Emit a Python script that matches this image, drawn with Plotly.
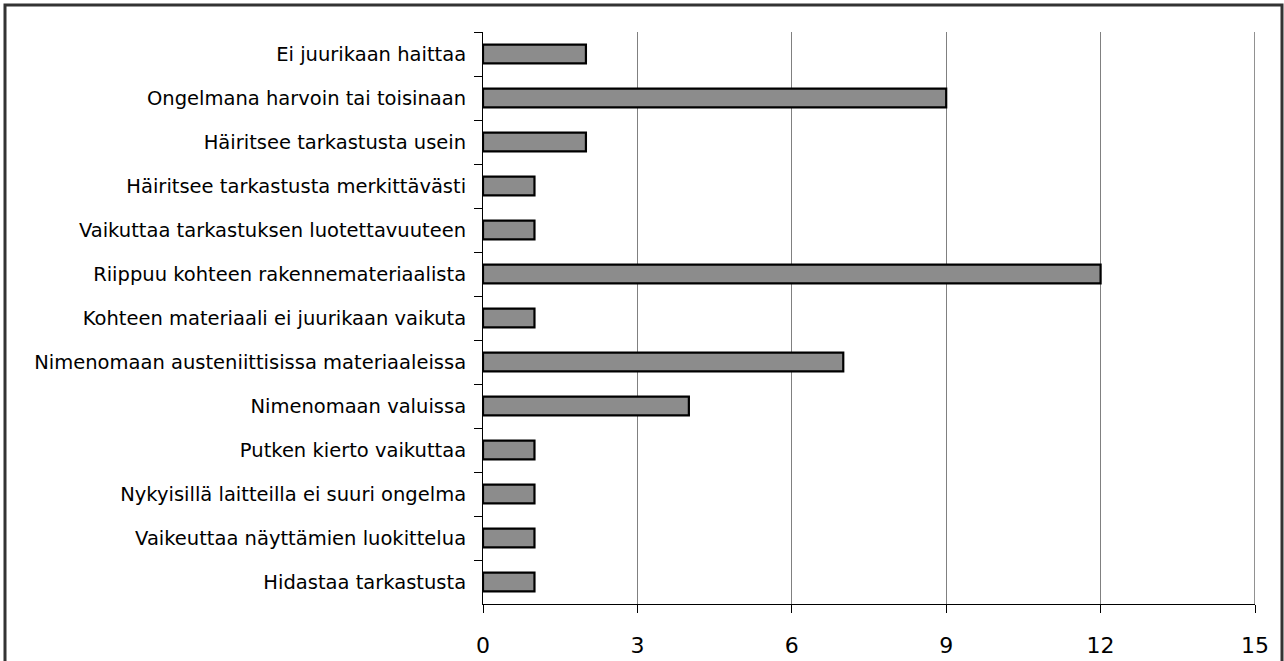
import plotly.graph_objects as go

categories = [
    "Ei juurikaan haittaa",
    "Ongelmana harvoin tai toisinaan",
    "Häiritsee tarkastusta usein",
    "Häiritsee tarkastusta merkittävästi",
    "Vaikuttaa tarkastuksen luotettavuuteen",
    "Riippuu kohteen rakennemateriaalista",
    "Kohteen materiaali ei juurikaan vaikuta",
    "Nimenomaan austeniittisissa materiaaleissa",
    "Nimenomaan valuissa",
    "Putken kierto vaikuttaa",
    "Nykyisillä laitteilla ei suuri ongelma",
    "Vaikeuttaa näyttämien luokittelua",
    "Hidastaa tarkastusta",
]
values = [2, 9, 2, 1, 1, 12, 1, 7, 4, 1, 1, 1, 1]
x_ticks = [0, 3, 6, 9, 12, 15]

W, H = 1284, 661
L, R, T, B = 483, 1255, 32, 604

fig = go.Figure()
fig.add_trace(go.Bar(
    x=values, y=categories, orientation="h",
    marker=dict(color="#8c8c8c", line=dict(color="#000000", width=2.2)),
    width=0.43,
))

fig.update_layout(
    width=W, height=H,
    margin=dict(l=L, r=W - R, t=T, b=H - B, pad=0, autoexpand=False),
    paper_bgcolor="white", plot_bgcolor="white",
    showlegend=False,
    font=dict(family="DejaVu Sans, Open Sans, Arial, sans-serif", color="#000000"),
)
fig.update_xaxes(
    range=[0, 15], tickvals=x_ticks, ticktext=[str(v) for v in x_ticks],
    showgrid=True, gridcolor="#808080", gridwidth=1,
    showline=True, linecolor="#000000", linewidth=1,
    ticks="outside", ticklen=8, tickcolor="#000000",
    tickfont=dict(size=22), ticklabelstandoff=14,
    zeroline=False, fixedrange=True, automargin=False,
)
fig.update_yaxes(
    autorange="reversed", tickson="boundaries",
    showgrid=False, showline=True, linecolor="#000000", linewidth=1,
    ticks="outside", ticklen=8, tickcolor="#000000",
    tickfont=dict(size=19.5), ticklabelstandoff=12,
    zeroline=False, fixedrange=True, automargin=False,
)

# dark right edge at x=15
fig.add_shape(type="line", xref="x", yref="paper", x0=15, x1=15, y0=0, y1=1,
              line=dict(color="#222222", width=1))

# outer frame around the whole figure
ph = B - T
pw = R - L
def px_to_xp(px):
    return (px - L) / pw
def px_to_yp(py):
    return (B - py) / ph
fig.add_shape(type="rect", xref="paper", yref="paper",
              x0=px_to_xp(5), x1=px_to_xp(1282), y0=px_to_yp(5), y1=px_to_yp(675),
              line=dict(color="#333333", width=3), fillcolor="rgba(0,0,0,0)", layer="above")

fig.write_html("out.html", config={"displayModeBar": False},
               post_script="document.body.style.margin='0';")
